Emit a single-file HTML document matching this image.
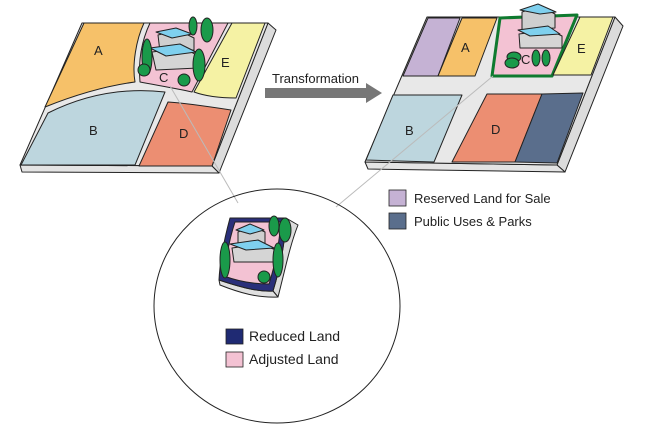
<!DOCTYPE html>
<html><head><meta charset="utf-8"><style>
html,body{margin:0;padding:0;background:#fff;overflow:hidden;width:648px;height:432px;}
svg{display:block;font-family:"Liberation Sans",sans-serif;}
</style></head><body>
<svg width="648" height="432" viewBox="0 0 648 432" xmlns="http://www.w3.org/2000/svg">
<g stroke="#222" stroke-width="1" stroke-linejoin="round">
<!-- LEFT BOARD -->
<polygon points="268,23 276,30 219,173 212,166" fill="#dcdcdc"/>
<polygon points="20,165 212,166 219,173 22,172" fill="#e4e4e4"/>
<polygon points="82,23 268,23 212,166 20,165" fill="#e8e8e8"/>
<path d="M84,23 L144,23 C136,40 132,65 135,82 C105,86 75,95 45,107 Z" fill="#f6c169"/>
<path d="M48,113 C90,92 130,88 165,92 L135,165 L21,165 Z" fill="#bdd6de"/>
<path d="M150,23 L228,23 L192,92 C175,88 155,85 140,82 C138,60 142,40 150,23 Z" fill="#f3c2d3"/>
<path d="M232,23 L265,23 L236,98 C220,98 205,96 194,92 Z" fill="#f5f2a4"/>
<path d="M168,102 C185,103 205,106 231,110 L212,166 L139,166 Z" fill="#ec8e72"/>
<polygon points="158,35 178,30 194,38 194,50 160,52" fill="#cfcfcf"/>
<polygon points="156,32 176,28 192,34 172,38" fill="#7fd0ee"/>
<polygon points="152,52 184,48 198,56 198,68 156,70" fill="#d5d5d5"/>
<polygon points="150,48 180,44 196,52 166,56" fill="#7fd0ee"/>
<ellipse cx="147" cy="57" rx="5" ry="18" fill="#1a9a4a"/>
<ellipse cx="144" cy="70" rx="6" ry="6" fill="#1a9a4a"/>
<ellipse cx="193" cy="26" rx="4" ry="9" fill="#1a9a4a"/>
<ellipse cx="207" cy="30" rx="6" ry="12" fill="#1a9a4a"/>
<ellipse cx="199" cy="65" rx="6" ry="16" fill="#1a9a4a"/>
<ellipse cx="184" cy="80" rx="6" ry="6" fill="#1a9a4a"/>
<!-- RIGHT BOARD -->
<polygon points="615,17 623,26 565,172 557,165" fill="#dcdcdc"/>
<polygon points="365,162 557,165 565,172 368,169" fill="#e4e4e4"/>
<polygon points="427,17 615,17 557,165 365,162" fill="#e8e8e8"/>
<polygon points="428,18 460,18 438,76 403,76" fill="#c5b2d4"/>
<polygon points="462,18 497,18 475,76 438,76" fill="#f6c169"/>
<polygon points="500,18 577,15 552,76 492,76" fill="#f3c2d3" stroke="#0f7a2f" stroke-width="3"/>
<polygon points="580,17 613,17 591,75 553,75" fill="#f5f2a4"/>
<polygon points="393,95 462,95 434,162 366,160" fill="#bdd6de"/>
<polygon points="487,94 542,94 515,162 452,162" fill="#ec8e72"/>
<polygon points="542,94 583,93 557,163 515,162" fill="#5a6e8c"/>
<polygon points="522,12 540,6 555,14 555,28 522,30" fill="#cfcfcf"/>
<polygon points="520,10 538,4 556,12 540,14" fill="#7fd0ee"/>
<polygon points="519,34 550,30 562,36 562,48 520,48" fill="#d5d5d5"/>
<polygon points="518,30 548,26 560,34 530,36" fill="#7fd0ee"/>
<ellipse cx="514" cy="57" rx="7" ry="5" fill="#1a9a4a"/>
<ellipse cx="512" cy="63" rx="7" ry="5" fill="#1a9a4a"/>
<ellipse cx="536" cy="58" rx="4" ry="8" fill="#1a9a4a"/>
<ellipse cx="546" cy="58" rx="4" ry="8" fill="#1a9a4a"/>
</g>
<g font-size="13" fill="#222">
<text x="94" y="55">A</text><text x="89" y="135">B</text><text x="159" y="82">C</text><text x="179" y="138">D</text><text x="221" y="67">E</text>
<text x="461" y="52">A</text><text x="405" y="135">B</text><text x="521" y="64">C</text><text x="491" y="134">D</text><text x="577" y="53">E</text>
</g>
<text x="272" y="83" font-size="13" fill="#222">Transformation</text>
<polygon points="265,88 366,88 366,83 382,93 366,103 366,98 265,98" fill="#777"/>
<line x1="170" y1="86" x2="238" y2="203" stroke="#bbb" stroke-width="1"/>
<line x1="493" y1="76" x2="336" y2="207" stroke="#bbb" stroke-width="1"/>
<ellipse cx="277" cy="306" rx="123" ry="117" fill="none" stroke="#222" stroke-width="1"/>
<g stroke="#222" stroke-linejoin="round">
<path d="M286,218 L298,225 C290,245 285,270 278,297 L273,291 C280,268 285,245 286,218Z" fill="#dcdcdc"/>
<path d="M219,280 C240,287 258,292 273,291 L278,297 C258,298 240,293 220,285Z" fill="#e0e0e0"/>
<path d="M230,218 L286,218 C285,245 280,268 273,291 C258,292 240,287 219,280 C220,260 224,240 230,218Z" fill="#2a2f7a"/>
<path d="M235,222 L281,222 C279,245 275,265 269,284 C255,284 240,282 224,276 C226,258 229,240 235,222Z" fill="#f3c2d3"/>
<polygon points="238,232 252,226 265,232 265,244 238,246" fill="#cfcfcf"/>
<polygon points="236,230 250,224 264,230 250,234" fill="#7fd0ee"/>
<polygon points="232,248 260,244 276,250 275,262 234,262" fill="#d5d5d5"/>
<polygon points="230,244 258,240 274,248 246,250" fill="#7fd0ee"/>
<ellipse cx="225" cy="260" rx="5" ry="18" fill="#1a9a4a"/>
<ellipse cx="274" cy="226" rx="5" ry="10" fill="#1a9a4a"/>
<ellipse cx="285" cy="230" rx="6" ry="12" fill="#1a9a4a"/>
<ellipse cx="278" cy="260" rx="5" ry="17" fill="#1a9a4a"/>
<ellipse cx="264" cy="277" rx="6" ry="6" fill="#1a9a4a"/>
</g>
<rect x="226" y="329" width="17" height="15" fill="#1f2a73" stroke="#222" stroke-width="0.8"/>
<text x="249" y="341" font-size="14" fill="#222">Reduced Land</text>
<rect x="226" y="352" width="17" height="15" fill="#f3c2d3" stroke="#222" stroke-width="0.8"/>
<text x="249" y="364" font-size="14" fill="#222">Adjusted Land</text>
<rect x="389" y="190" width="17" height="16" fill="#c5b2d4" stroke="#222" stroke-width="0.8"/>
<text x="414" y="203" font-size="13" fill="#222">Reserved Land for Sale</text>
<rect x="389" y="213" width="17" height="16" fill="#5a6e8c" stroke="#222" stroke-width="0.8"/>
<text x="414" y="226" font-size="13" fill="#222">Public Uses &amp; Parks</text>
</svg>
</body></html>
